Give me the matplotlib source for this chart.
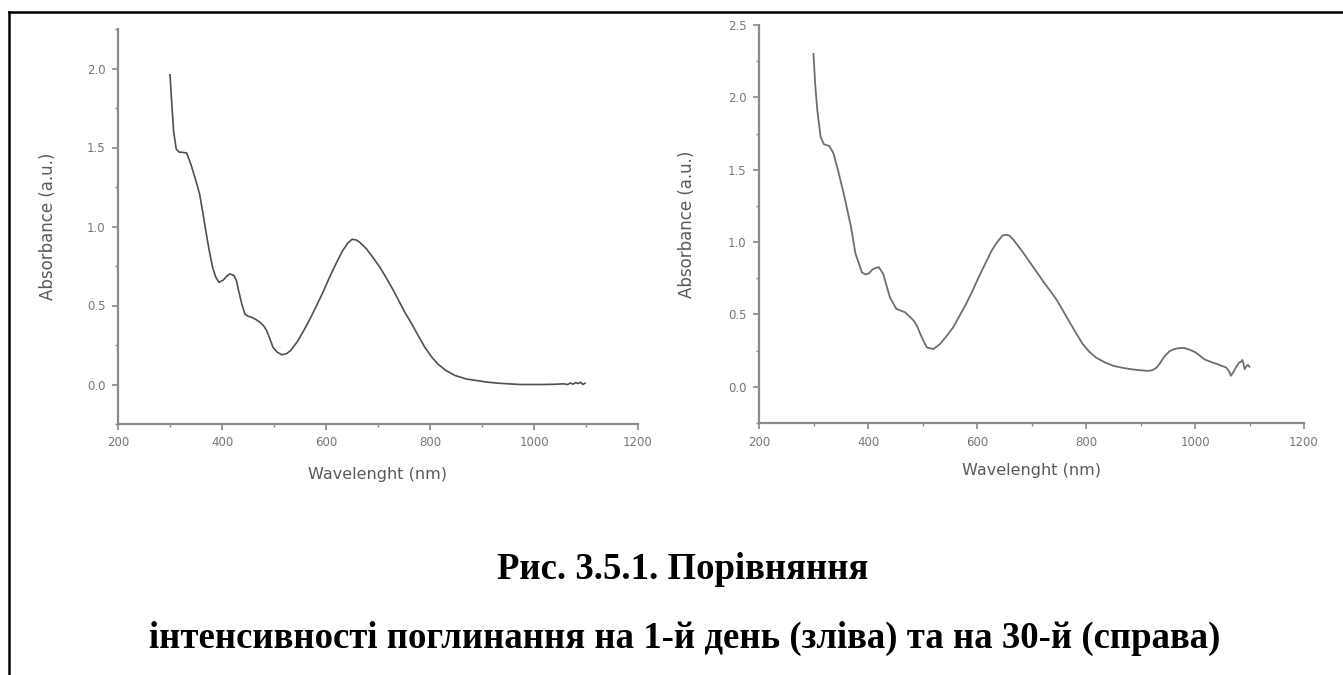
import matplotlib
matplotlib.use("Agg")
import matplotlib.pyplot as plt
from matplotlib.ticker import MultipleLocator, FormatStrFormatter
from matplotlib.lines import Line2D

# Day 1 spectrum (left)
wl_day1 = [300, 303, 307, 312, 318, 323, 332, 340, 348, 357, 363, 369, 375, 382, 388, 394,
           402, 409, 415, 423, 428, 432, 438, 444, 450, 457, 465, 473, 480, 486, 492, 498,
           506, 515, 524, 532, 545, 557, 570, 582, 595, 607, 620, 632, 642, 650, 658, 665,
           678, 690, 703, 715, 728, 740, 752, 765, 778, 790, 803, 815, 830, 848, 870, 890,
           910, 932, 952, 973, 995, 1015, 1035, 1057, 1065, 1070, 1075, 1080, 1085, 1090, 1094, 1098]
abs_day1 = [1.96, 1.80, 1.60, 1.49, 1.47, 1.47, 1.465, 1.395, 1.31, 1.205, 1.09, 0.97, 0.855, 0.74, 0.68, 0.647,
            0.66, 0.685, 0.70, 0.69, 0.655, 0.594, 0.51, 0.447, 0.432, 0.426, 0.412, 0.394, 0.372, 0.34, 0.29, 0.236,
            0.205, 0.188, 0.195, 0.215, 0.272, 0.34, 0.42, 0.50, 0.59, 0.68, 0.77, 0.847, 0.895, 0.919, 0.915, 0.90,
            0.858, 0.805, 0.745, 0.68, 0.605, 0.53, 0.455, 0.383, 0.305, 0.236, 0.175, 0.13, 0.09, 0.057, 0.035, 0.025,
            0.015, 0.008, 0.004, 0.0, 0.0, 0.0, 0.001, 0.004, 0.0, 0.01, 0.002, 0.012, 0.006, 0.014, 0.0, 0.008]

# Day 30 spectrum (right)
wl_day30 = [300, 303, 307, 313, 319, 329, 337, 345, 357, 369, 377, 389, 396, 402, 408, 414,
            420, 428, 434, 440, 452, 468, 484, 490, 496, 502, 508, 520, 532, 544, 556, 568,
            580, 592, 603, 615, 627, 637, 647, 653, 659, 667, 675, 687, 699, 711, 723, 735,
            747, 758, 770, 782, 794, 806, 818, 834, 850, 866, 882, 898, 914, 922, 930, 937,
            945, 953, 961, 971, 981, 991, 1001, 1009, 1017, 1029, 1041, 1049, 1057, 1062, 1066,
            1071, 1075, 1078, 1081, 1084, 1087, 1089, 1091, 1094, 1097, 1100]
abs_day30 = [2.30, 2.096, 1.91, 1.727, 1.676, 1.664, 1.61, 1.496, 1.31, 1.10, 0.92, 0.79, 0.776, 0.785, 0.81, 0.822,
             0.826, 0.78, 0.70, 0.62, 0.538, 0.515, 0.457, 0.42, 0.365, 0.315, 0.272, 0.261, 0.295, 0.35, 0.41, 0.49,
             0.573, 0.665, 0.757, 0.85, 0.942, 1.00, 1.046, 1.05, 1.046, 1.015, 0.976, 0.915, 0.85, 0.785, 0.72, 0.66,
             0.596, 0.525, 0.446, 0.37, 0.295, 0.243, 0.203, 0.17, 0.145, 0.132, 0.122, 0.115, 0.11, 0.115, 0.134, 0.17,
             0.215, 0.245, 0.26, 0.268, 0.268, 0.255, 0.238, 0.215, 0.19, 0.172, 0.157, 0.145, 0.134, 0.11, 0.076,
             0.105, 0.134, 0.15, 0.168, 0.172, 0.185, 0.16, 0.122, 0.14, 0.152, 0.139]

x_ticks = [200, 400, 600, 800, 1000, 1200]
x_label = "Wavelenght (nm)"
y_label = "Absorbance (a.u.)"
caption_1 = "Рис. 3.5.1. Порівняння"
caption_2 = "інтенсивності поглинання на 1-й день (зліва) та на 30-й (справа)"

W, H = 1343, 675
fig = plt.figure(figsize=(W / 100, H / 100), dpi=100)
fig.patch.set_facecolor("white")

axis_col = "#8a8a8a"
tick_lab_col = "#777777"
lab_col = "#5a5a5a"


def style(ax, ymax, lab_x, xlab_y):
    for s in ("top", "right"):
        ax.spines[s].set_visible(False)
    for s in ("left", "bottom"):
        ax.spines[s].set_color(axis_col)
        ax.spines[s].set_linewidth(1.6)
    ax.set_xlim(200, 1200)
    ax.set_ylim(-0.25, ymax)
    ax.set_xticks(x_ticks)
    ax.xaxis.set_minor_locator(MultipleLocator(100))
    yt = [0.0, 0.5, 1.0, 1.5, 2.0, 2.5]
    ax.set_yticks([v for v in yt if v <= ymax + 0.01])
    ax.yaxis.set_minor_locator(MultipleLocator(0.25))
    ax.yaxis.set_major_formatter(FormatStrFormatter("%.1f"))
    ax.tick_params(which="major", direction="out", length=4, width=1.2, color=axis_col,
                   labelsize=8.5, labelcolor=tick_lab_col, pad=5)
    ax.tick_params(which="minor", direction="out", length=2.5, width=1.0, color=axis_col)
    ax.set_xlabel(x_label, fontsize=11.5, color=lab_col)
    ax.set_ylabel(y_label, fontsize=12, color=lab_col)
    ax.xaxis.set_label_coords(0.5, xlab_y)
    ax.yaxis.set_label_coords(lab_x, 0.5)
    ax.set_facecolor("none")


ax1 = fig.add_axes([118 / W, 1 - 424 / H, 520 / W, 395 / H])
ax1.plot(wl_day1, abs_day1, color="#505050", lw=1.2)
style(ax1, 2.25, -0.118, -0.108)

ax2 = fig.add_axes([759 / W, 1 - 423 / H, 545 / W, 398 / H])
ax2.plot(wl_day30, abs_day30, color="#6e6e6e", lw=1.3)
style(ax2, 2.5, -0.116, -0.100)

# page frame lines (top and left)
fig.add_artist(Line2D([9 / W, 1.0], [1 - 12 / H, 1 - 12 / H], transform=fig.transFigure,
                      color="black", lw=1.8))
fig.add_artist(Line2D([9 / W, 9 / W], [0, 1 - 12 / H], transform=fig.transFigure,
                      color="black", lw=1.8))

fig.text(683 / W, 1 - 579 / H, caption_1, ha="center", va="baseline",
         family="Liberation Serif", weight="bold", fontsize=26.5, color="black")
fig.text(685 / W, 1 - 648 / H, caption_2, ha="center", va="baseline",
         family="Liberation Serif", weight="bold", fontsize=26.5, color="black")

fig.savefig("out.png", dpi=100)
